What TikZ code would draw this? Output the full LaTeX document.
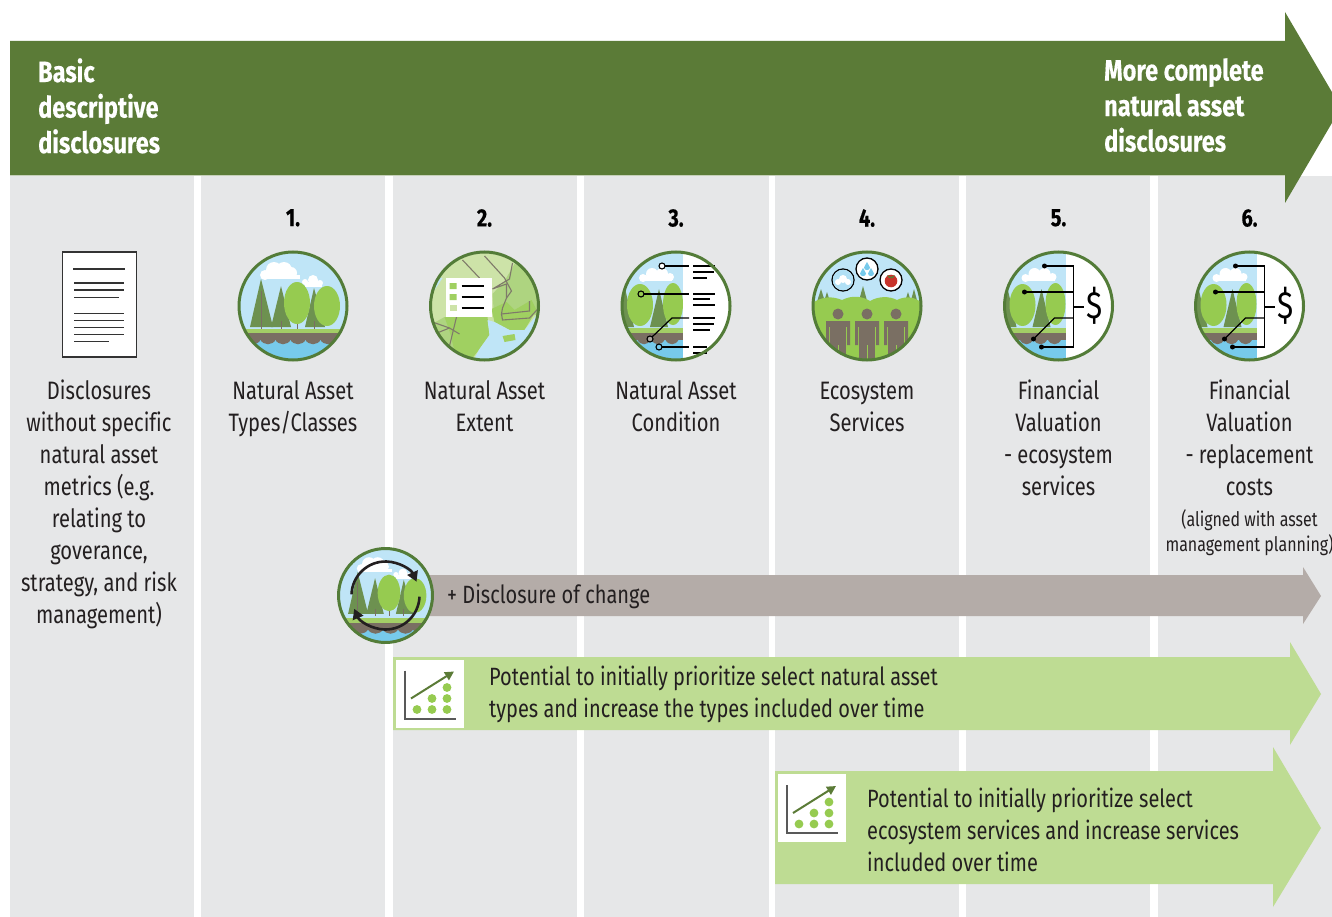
\documentclass[tikz,border=0pt]{standalone}
\usepackage{fontspec}
\setmainfont[FakeStretch=0.8, Ligatures=NoCommon, BoldFeatures={FakeBold=0.3}]{Fira Sans}
\usetikzlibrary{arrows.meta}
\definecolor{columngrey}{HTML}{E6E7E8}
\definecolor{bargreen}{HTML}{5B7B37}
\definecolor{ringgreen}{HTML}{537C38}
\definecolor{palegreen}{HTML}{BEDC93}
\definecolor{changegrey}{HTML}{B4ACA8}
\definecolor{inkblack}{HTML}{231F20}
\definecolor{skyblue}{HTML}{BFE5F7}
\definecolor{waterblue}{HTML}{77CAEB}
\definecolor{pinegreen}{HTML}{6D9150}
\definecolor{leafgreen}{HTML}{96CB50}
\definecolor{grassgreen}{HTML}{A3CE66}
\definecolor{soilbrown}{HTML}{7A6F63}
\definecolor{mapgreen}{HTML}{CDE3A8}
\definecolor{mapmid}{HTML}{AED480}
\definecolor{roadgrey}{HTML}{7F7A6A}
\definecolor{applered}{HTML}{C8342B}
\tikzset{
    label/.style={font=\fontsize{25.2}{32}\selectfont, text=inkblack, align=center, anchor=north, inner sep=0pt},
    smalllabel/.style={font=\fontsize{20}{25}\selectfont, text=inkblack, align=center, anchor=north, inner sep=0pt},
    number/.style={font=\fontsize{25}{26}\selectfont\bfseries, text=black, anchor=north, inner sep=0pt},
    heading/.style={font=\fontsize{29.4}{35.5}\selectfont\bfseries, text=white, align=left, anchor=north west, inner sep=0pt},
    bar/.style={font=\fontsize{25}{32}\selectfont, text=inkblack, align=left, anchor=north west, inner sep=0pt},
    ring/.style={draw=ringgreen, line width=3pt},
    column/.style={fill=columngrey},
    docline/.style={line width=#1, draw=black!80},
    textline/.style={line width=1.4pt, black},
    wire/.style={line width=1.2pt, black},
    road/.style={line width=1.1pt, draw=roadgrey},
    chartdot/.pic={\fill[leafgreen] (0,0) circle [radius=4.4];},
    chart/.pic={
        \fill[white] (0,0) rectangle (68,68);
        \draw[line width=2pt, black!65] (9,11) -- (9,59) -- (60,59);
        \draw[line width=2pt, bargreen, -{Triangle[length=9pt,width=9pt]}] (15,39) -- (58,12);
        \foreach \dotx/\doty in {21/50, 36/50, 51/50, 36/39, 51/39, 51/28}
            \pic at (\dotx,\doty) {chartdot};
    },
    groundrow/.pic={
        \fill[grassgreen] (-56,22.5) rectangle (56,27);
        \fill[soilbrown] (-56,27) rectangle (56,34);
        \fill[waterblue] (-56,34) rectangle (56,56);
        \foreach \scallopx in {-40,-25,...,40}
            \fill[soilbrown] (\scallopx-8,33) .. controls (\scallopx-5,40) and (\scallopx+5,40) .. (\scallopx+8,33) -- cycle;
    },
    forest/.pic={
        \begin{scope}
            \clip (0,0) circle [radius=54];
            \fill[skyblue] (-56,-56) rectangle (56,56);
            \fill[white] (-28,-31) circle [radius=5] (-19,-36) circle [radius=8] (-9,-36) circle [radius=8] (-2,-33) circle [radius=6];
            \fill[white] (-28,-31) rectangle (7,-27);
            \fill[white] (12,-24) circle [radius=3] (20,-26) circle [radius=5] (27,-23) circle [radius=3];
            \fill[white] (12,-24) rectangle (29,-19);
            \fill[pinegreen] (-43,21) -- (-32,-27) -- (-20,21) -- cycle;
            \fill[pinegreen] (-22,21) -- (-12,-20) -- (-2,21) -- cycle;
            \fill[pinegreen] (12,21) -- (21,-18) -- (32,21) -- cycle;
            \draw[line width=0.8pt, soilbrown] (-32,-15) -- (-32,23) (-12,15) -- (-12,23) (4,15) -- (4,23) (21,15) -- (21,23);
            \fill[leafgreen] (4,-3) ellipse [x radius=13, y radius=21];
            \fill[leafgreen] (34,0) ellipse [x radius=13, y radius=20];
            \pic {groundrow};
        \end{scope}
        \draw[ring] (0,0) circle [radius=54];
    },
    halfforest/.pic={
        \clip (0,0) circle [radius=54];
        \fill[white] (-56,-56) rectangle (56,56);
        \fill[skyblue] (-56,-56) rectangle (7,56);
        \fill[white] (-33,-28) circle [radius=4] (-24,-32) circle [radius=6] (-14,-32) circle [radius=6] (-6,-29) circle [radius=4];
        \fill[white] (-33,-29) rectangle (-4,-25);
        \fill[pinegreen] (-62,21) -- (-52,-22) -- (-42,21) -- cycle;
        \fill[pinegreen] (-26,21) -- (-17,-17) -- (-8,21) -- cycle;
        \fill[leafgreen] (-36,-1) ellipse [x radius=13, y radius=21];
        \fill[leafgreen] (-3,-2) ellipse [x radius=10, y radius=21];
        \fill[grassgreen] (-56,22) rectangle (7,27);
        \fill[soilbrown] (-56,27) rectangle (7,34);
        \fill[waterblue] (-56,34) rectangle (7,56);
        \foreach \scallopx in {-46,-32,...,4}
            \fill[soilbrown] (\scallopx-7,33) .. controls (\scallopx-4,40) and (\scallopx+4,40) .. (\scallopx+7,33) -- cycle;
    },
    person/.pic={
        \fill[soilbrown] (0,8) circle [radius=5.5];
        \fill[soilbrown] (-12,15) rectangle (12,21);
        \fill[soilbrown] (-8,15) rectangle (8,60);
        \fill[soilbrown] (-12,15) rectangle (-9,39) (9,15) rectangle (12,39);
        \draw[line width=1pt, leafgreen] (0,39) -- (0,60);
    },
    serviceball/.style={fill=white, draw=black, line width=1.3pt},
    condition/.pic={
        \begin{scope}
            \pic {halfforest};
            \draw[wire] (-11,-40) -- (13,-40);
            \draw[wire] (-32,-12) -- (13,-12);
            \draw[wire] (-24,31) -- (-4,12) -- (13,12);
            \draw[wire] (-14,41) -- (13,41);
            \draw[line width=1.1pt, black, fill=white] (-14,-40) circle [radius=3];
            \draw[line width=1.1pt, black, fill=leafgreen] (-35,-12) circle [radius=3];
            \draw[line width=1.1pt, black, fill=soilbrown!60!white] (-26,33) circle [radius=3];
            \draw[line width=1.1pt, black, fill=waterblue] (-17,41) circle [radius=3];
            \foreach \liney/\lineend in {-40/39, -34/38, -28/31, -12/39, -7/34, -1/39, 12/39, 18/38, 24/34, 41/31, 47/31}
                \draw[textline] (17,\liney) -- (\lineend,\liney);
        \end{scope}
        \draw[ring] (0,0) circle [radius=54];
    },
    valuation/.pic={
        \begin{scope}
            \pic {halfforest};
            \draw[wire] (-14,-40) -- (15,-40) -- (15,41) -- (-17,41);
            \draw[wire] (-34,-14) -- (15,-14);
            \draw[wire] (-25,33) -- (-4,12) -- (15,12);
            \draw[wire] (15,1) -- (25,1);
            \fill[black] (-14,-40) circle [radius=2.5] (-34,-14) circle [radius=2.5] (-25,33) circle [radius=2.5] (-17,41) circle [radius=2.5];
        \end{scope}
        \node[inner sep=0pt, font=\fontsize{38}{38}\selectfont, text=black] at (36,0) {\$};
        \draw[ring] (0,0) circle [radius=54];
    },
}
\begin{document}
\begin{tikzpicture}[x=1pt, y=-1pt]
    \useasboundingbox (0,0) rectangle (1332,917);
    \foreach \colleft/\colright in {10/194, 201/385, 393/577, 584/769, 775/959, 966/1150, 1158/1332}
        \fill[column] (\colleft,176) rectangle (\colright,917);
    \fill[bargreen] (10,41) -- (1285,41) -- (1285,12) -- (1341,107.5) -- (1285,203) -- (1285,175.5) -- (10,175.5) -- cycle;
    \node[heading] (basic) at (38,58) {Basic\\descriptive\\disclosures};
    \node[heading] (complete) at (1104,58) {More complete\\natural asset\\disclosures};

    \foreach \numx/\numtext in {293/1, 484.5/2, 676/3, 867/4, 1058.5/5, 1249.5/6}
        \node[number] (num\numtext) at (\numx,209) {\numtext.};

    % document
    \draw[line width=1.2pt, draw=black!80, fill=white] (62.5,252) rectangle (136.5,357);
    \foreach \liney/\lineleft/\lineright/\linewd in {268.5/73/125/2pt, 283/74/124/1.2pt, 290/74/124/1.3pt, 297.5/74/118.5/1.2pt, 313.5/74/124/1.7pt, 320.5/74/124/1.2pt, 327.5/74/124/1.1pt, 334.5/74/124/1.7pt, 341.5/74/108.5/1.2pt}
        \draw[docline=\linewd] (\lineleft,\liney) -- (\lineright,\liney);

    % column icons
    \pic at (293,306) {forest};

    % map
    \begin{scope}[shift={(484.5,306)}]
        \begin{scope}
            \clip (0,0) circle [radius=54];
            \fill[mapgreen] (-56,-56) rectangle (56,56);
            \fill[skyblue] (-56,-30) -- (-42,-28) -- (-50,-16) -- (-56,-15) -- cycle;
            \fill[mapmid] (8,-12) -- (20,-25) -- (30,-42) -- (56,-30) -- (56,8) -- (10,16) -- cycle;
            \fill[mapmid] (-56,20) -- (-40,11) -- (-30,30) -- (-25,56) -- (-56,56) -- cycle;
            \fill[leafgreen!90!white] (-40,11) -- (3,11) -- (5,29) -- (-5,43) -- (-12,52) -- (-30,45) -- (-35,25) -- cycle;
            \fill[leafgreen!90!white] (7,3) -- (22,-4) -- (30,4) -- (47,-6) -- (52,4) -- (40,24) -- (25,24) -- (10,16) -- cycle;
            \fill[skyblue] (56,4) -- (40,24) -- (25,24) -- (10,16) -- (3,14) -- (5,29) -- (-5,43) -- (-12,56) -- (56,56) -- cycle;
            \fill[leafgreen!90!white] (18,30) -- (30,28) -- (31,34) -- (20,36) -- cycle;
            \draw[road] (-22,-46) -- (-5,-28);
            \draw[road] (0,-50) -- (20,-28) -- (27,-15) -- (22,-8);
            \draw[road] (28,-43) -- (25,-27) -- (8,-17) -- (22,-22) -- (22,-8) -- (18,2) -- (17,8) -- (45,5) -- (45,-5);
            \draw[road] (17,8) -- (18,14) -- (45,12) -- (56,0);
            \draw[road] (-55,15) -- (-35,22) -- (-25,28);
            \draw[road] (-28,11) -- (-35,40);
            \draw[road] (-50,28) -- (-35,22);
            \fill[white] (-39,-28) rectangle (7,11);
            \fill[leafgreen!90!white] (-35,-23) rectangle (-28,-17) (-35,-12) rectangle (-28,-6);
            \fill[mapgreen] (-35,-1) rectangle (-28,5);
            \draw[textline] (-23,-20) -- (-1,-20) (-23,-9) -- (-1,-9) (-23,2) -- (-1,2);
        \end{scope}
        \draw[ring] (0,0) circle [radius=54];
    \end{scope}

    \pic at (676,306) {condition};

    % services
    \begin{scope}[shift={(867,306)}]
        \begin{scope}
            \clip (0,0) circle [radius=54];
            \fill[skyblue] (-56,-56) rectangle (56,56);
            \fill[pinegreen] (-52,2) -- (-46,-17) -- (-40,2) -- cycle;
            \fill[pinegreen] (-45,2) -- (-40,-14) -- (-35,2) -- cycle;
            \fill[pinegreen] (-10,2) -- (-4,-20) -- (2,2) -- cycle;
            \fill[pinegreen] (36,2) -- (41,-14) -- (46,2) -- cycle;
            \fill[pinegreen] (42,2) -- (47,-17) -- (52,2) -- cycle;
            \fill[leafgreen] (-56,56) -- (-56,-2) .. controls (-45,-10) and (-35,-10) .. (-25,-6) .. controls (-15,-11) and (-5,-10) .. (3,-5) .. controls (12,-10) and (22,-10) .. (30,-6) .. controls (38,-10) and (48,-10) .. (56,-2) -- (56,56) -- cycle;
            \foreach \personx in {-29,0,29}
                \pic at (\personx,0) {person};
        \end{scope}
        \draw[ring] (0,0) circle [radius=54];
        \draw[serviceball] (-24,-26) circle [radius=11];
        \begin{scope}
            \clip (-24,-26) circle [radius=10.3];
            \fill[skyblue!80!waterblue] (-36,-38) rectangle (-12,-14);
            \fill[white] (-24,-27) circle [radius=4] (-29,-24) circle [radius=3] (-19,-24) circle [radius=3];
        \end{scope}
        \draw[serviceball] (0,-37) circle [radius=11];
        \foreach \dropx/\dropy in {-4/-34, 4/-34, 0/-40}
            \fill[waterblue] (\dropx,\dropy-4) .. controls (\dropx+1,\dropy-1) and (\dropx+3,\dropy) .. (\dropx+3,\dropy+1.5) .. controls (\dropx+3,\dropy+5) and (\dropx-3,\dropy+5) .. (\dropx-3,\dropy+1.5) .. controls (\dropx-3,\dropy) and (\dropx-1,\dropy-1) .. (\dropx,\dropy-4) -- cycle;
        \draw[serviceball] (24,-26) circle [radius=11];
        \fill[applered] (24,-25) circle [radius=6.3];
        \fill[bargreen] (20,-31) -- (24,-29) -- (28,-31) -- (26,-28) -- (22,-28) -- cycle;
    \end{scope}

    \pic at (1058.5,306) {valuation};
    \pic at (1249.5,306) {valuation};

    % labels
    \node[label] (lbldisc) at (99,380) {Disclosures\\without specific\\natural asset\\metrics (e.g.\\relating to\\goverance,\\strategy, and risk\\management)};
    \node[label] (lbltypes) at (293,380) {Natural Asset\\Types/Classes};
    \node[label] (lblextent) at (484.5,380) {Natural Asset\\Extent};
    \node[label] (lblcond) at (676,380) {Natural Asset\\Condition};
    \node[label] (lblserv) at (867,382) {Ecosystem\\Services};
    \node[label] (lblval) at (1058.5,380) {Financial\\Valuation\\- ecosystem\\services};
    \node[label] (lblcost) at (1249.5,380) {Financial\\Valuation\\- replacement\\costs};
    \node[smalllabel] (lblplan) at (1249.5,509.5) {(aligned with asset\\management planning)};

    % bars
    \fill[changegrey] (430,575) -- (1303,575) -- (1303,567) -- (1321,596) -- (1303,624) -- (1303,616) -- (430,616) -- cycle;
    \node[bar] (change) at (447,584) {+ Disclosure of change};
    \fill[palegreen] (393,657) -- (1290,657) -- (1290,642) -- (1321,694) -- (1290,745) -- (1290,730) -- (393,730) -- cycle;
    \pic at (396,659.5) {chart};
    \node[bar] (typesbar) at (489,666) {Potential to initially prioritize select natural asset\\types and increase the types included over time};
    \fill[palegreen] (775,771) -- (1273,771) -- (1273,747) -- (1321,828) -- (1273,907) -- (1273,884) -- (775,884) -- cycle;
    \pic at (778,774) {chart};
    \node[bar] (servbar) at (867,788) {Potential to initially prioritize select\\ecosystem services and increase services\\included over time};

    % change icon
    \pic[scale=0.87] at (385.5,595.5) {forest};
    \draw[line width=2.6pt, inkblack, -{Triangle[length=10pt,width=11pt]}] (385.5,595.5) ++(-178:34) arc [start angle=-178, end angle=-24, radius=34];
    \draw[line width=2.6pt, inkblack, -{Triangle[length=10pt,width=11pt]}] (385.5,595.5) ++(2:34) arc [start angle=2, end angle=157, radius=34];
\end{tikzpicture}
\end{document}
